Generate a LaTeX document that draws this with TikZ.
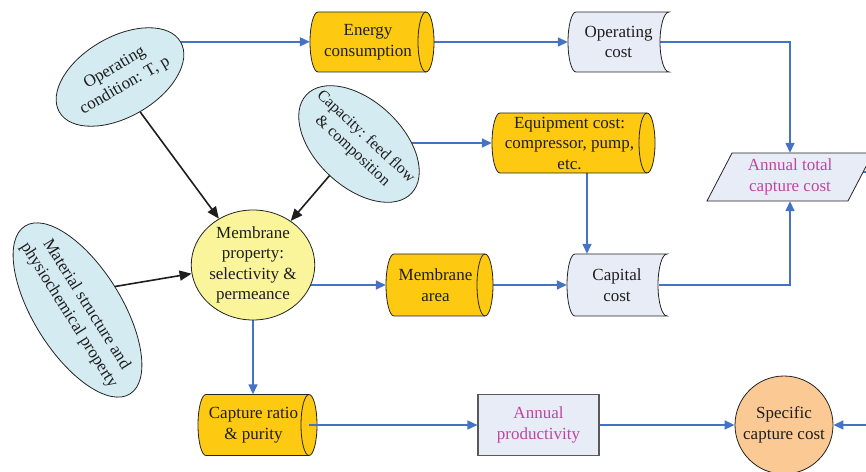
\documentclass[tikz,border=0pt]{standalone}
\usepackage{fontspec}
\setmainfont{Liberation Serif}
\usetikzlibrary{shapes.geometric,arrows.meta}
\pgfdeclarelayer{background}
\pgfsetlayers{background,main}
\definecolor{lblue}{RGB}{213,235,242}
\definecolor{gold}{RGB}{254,202,17}
\definecolor{paleb}{RGB}{232,236,246}
\definecolor{myell}{RGB}{250,244,155}
\definecolor{orng}{RGB}{251,202,148}
\definecolor{abl}{RGB}{68,114,196}
\definecolor{magt}{RGB}{190,70,160}
\definecolor{edge}{RGB}{35,35,35}
\definecolor{ink}{RGB}{30,30,30}
\tikzset{
  pics/cyl/.style n args={2}{code={
    \path[fill=gold,draw=edge,line width=0.8pt]
      (-#1/2+8,#2/2) -- (#1/2-8,#2/2)
      arc[start angle=90,end angle=-90,x radius=8pt,y radius={(#2)*0.5pt}]
      -- (-#1/2+8,-#2/2)
      arc[start angle=270,end angle=90,x radius=8pt,y radius={(#2)*0.5pt}] -- cycle;
    \draw[edge,line width=0.8pt] (#1/2-8,#2/2)
      arc[start angle=90,end angle=270,x radius=8pt,y radius={(#2)*0.5pt}];
  }},
  pics/sdata/.style n args={2}{code={
    \path[fill=paleb,draw=edge,line width=0.8pt]
      (-#1/2+8,#2/2) -- (#1/2,#2/2)
      arc[start angle=90,end angle=270,x radius=9pt,y radius={(#2)*0.5pt}]
      -- (-#1/2+8,-#2/2)
      arc[start angle=270,end angle=90,x radius=8pt,y radius={(#2)*0.5pt}] -- cycle;
  }},
}
\begin{document}
\begin{tikzpicture}[x=1pt,y=1pt,
  txt/.style={font=\fontsize{17}{20.5}\selectfont, align=center, text=ink, inner sep=0pt},
  oval/.style={ellipse, draw=edge, line width=0.8pt, fill=lblue, txt, inner xsep=-25pt, inner ysep=-15pt},
  boxtxt/.style={txt, draw=none},
  flow/.style={draw=abl, line width=1.5pt, -{Triangle[length=10pt,width=9pt]}},
  inf/.style={draw=ink, line width=1.6pt, -{Triangle[length=12pt,width=10pt]}}
]
\useasboundingbox (0,0) rectangle (866,471);
\clip (0,0) rectangle (866,471);

% input ovals
\node[oval, rotate=30, minimum width=140, minimum height=80] (opcond) at (120,394) {Operating\\condition: T, p};
\node[oval, rotate=-43, minimum width=144, minimum height=86, font=\fontsize{16}{19.5}\selectfont] (capacity) at (359,327) {Capacity: feed flow\\\& composition};
\node[oval, rotate=-58, minimum width=198, minimum height=88] (material) at (77.5,161) {Material structure and\\physiochemical property};

% membrane property
\node[ellipse, draw=edge, line width=0.8pt, fill=myell, txt, minimum width=120, minimum height=110] (membrane) at (253,206) {Membrane\\property:\\selectivity \&\\permeance};

% cylinders
\pic at (372,429) {cyl={124}{60}};
\node[boxtxt, minimum width=116, minimum height=60] (energy) at (368,429) {Energy\\consumption};
\pic at (573.5,328) {cyl={163}{60}};
\node[boxtxt, minimum width=155, minimum height=60] (equip) at (569.5,328) {Equipment cost:\\compressor, pump,\\etc.};
\pic at (439.5,186) {cyl={107}{62}};
\node[boxtxt, minimum width=99, minimum height=62] (memarea) at (435.5,186) {Membrane\\area};
\pic at (257.5,46) {cyl={119}{61}};
\node[boxtxt, minimum width=111, minimum height=61] (capture) at (253.5,46) {Capture ratio\\\& purity};

% stored data
\pic at (618.5,429) {sdata={101}{60}};
\node[boxtxt, minimum width=101, minimum height=60] (opcost) at (618.5,429) {Operating\\cost};
\pic at (617,186) {sdata={100}{62}};
\node[boxtxt, minimum width=100, minimum height=62] (capital) at (617,186) {Capital\\cost};

% parallelogram
\path[fill=paleb, draw=edge, line width=0.8pt] (732,318) -- (873,318) -- (848,270) -- (707,270) -- cycle;
\node[boxtxt, text=magt, minimum width=141, minimum height=48] (para) at (790,294) {Annual total\\capture cost};

% productivity
\node[txt, rectangle, draw=black!65, line width=1.1pt, fill=paleb, text=magt, minimum width=121, minimum height=61] (prod) at (538.5,46) {Annual\\productivity};

% specific capture cost
\node[circle, draw=edge, line width=0.8pt, fill=orng, txt, minimum size=98] (specific) at (784,46) {Specific\\capture cost};

\coordinate (offr) at (900,299);

\begin{pgfonlayer}{background}
\draw[flow] (opcond.east) -- (opcond.east -| energy.west);
\draw[flow] ([xshift=8pt]energy.east) -- (opcost.west);
\draw[flow] ([xshift=-9pt]opcost.east) -| (para.north);
\draw[flow] (capacity.center |- equip.west) -- (equip.west);
\draw[flow] ([xshift=17.5pt]equip.south) -- ([xshift=17.5pt]equip.south |- capital.north);
\draw[flow] (membrane.center |- memarea.west) -- (memarea.west);
\draw[flow] ([xshift=8pt]memarea.east) -- (capital.west);
\draw[flow] ([xshift=-8pt]capital.east) -| (para.south);
\draw[flow] (membrane.center) -- (membrane.center |- capture.north);
\draw[flow] (prod.east) -- (specific.west);
\draw[flow] (para.center |- offr) -- (offr) |- (specific.east);
\draw[inf] (opcond.south) -- (membrane);
\draw[inf] (capacity.south) -- (membrane);
\draw[inf] (material.north) -- (membrane.188);
\end{pgfonlayer}
\draw[flow] (capture.east) -- (prod.west);
\end{tikzpicture}
\end{document}
